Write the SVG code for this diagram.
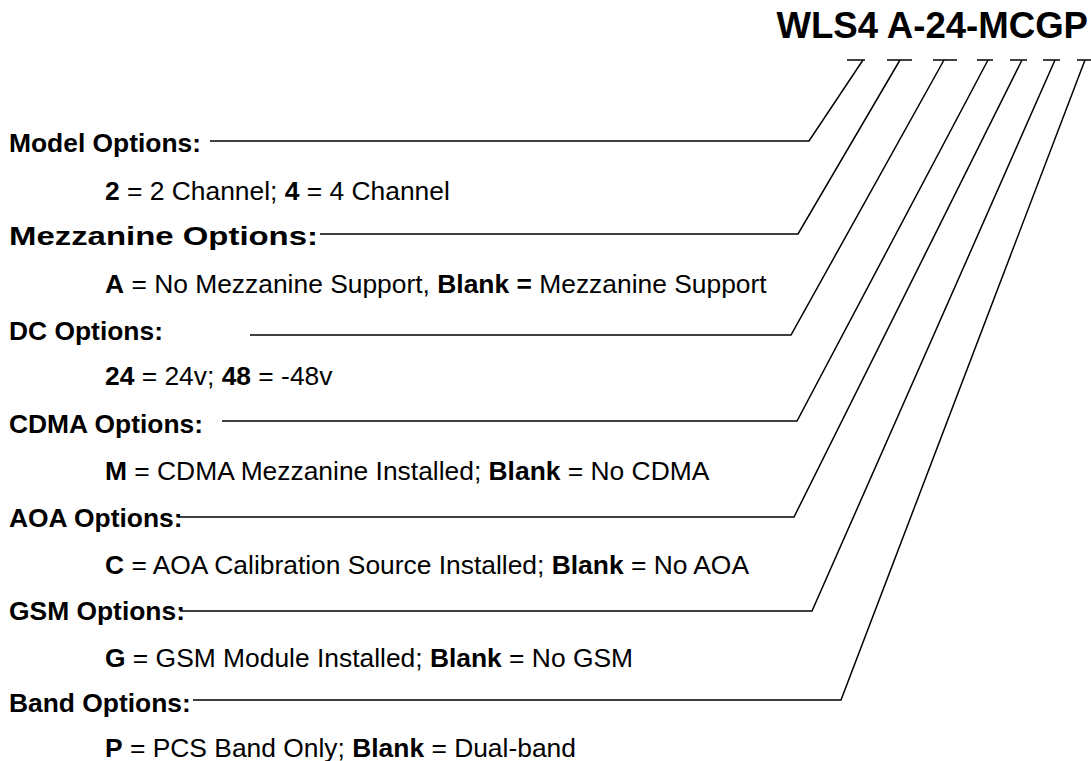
<svg xmlns="http://www.w3.org/2000/svg" width="1091" height="761" viewBox="0 0 1091 761">
<style>
text{font-family:"Liberation Sans",Arial,sans-serif;fill:#000}
.t{font-size:36.6px;font-weight:bold}
.h{font-size:26.4px;font-weight:bold}
.s{font-size:26.4px}
.b{font-weight:bold}
.c{fill:none;stroke:#000;stroke-width:1.5}
</style>
<rect width="1091" height="761" fill="#fff"/>
<g id="title"><text class="t" x="1088" y="38" text-anchor="end">WLS4 A-24-MCGP</text></g>
<g id="model"><text class="h" x="9" y="152">Model Options:</text><text class="s" x="105" y="200"><tspan class="b">2</tspan> = 2 Channel; <tspan class="b">4</tspan> = 4 Channel</text></g>
<g id="mezzanine"><text class="h" x="9" y="245" textLength="309" lengthAdjust="spacingAndGlyphs">Mezzanine Options:</text><text class="s" x="105" y="293"><tspan class="b">A</tspan> = No Mezzanine Support, <tspan class="b">Blank =</tspan> Mezzanine Support</text></g>
<g id="dc"><text class="h" x="9" y="340">DC Options:</text><text class="s" x="105" y="385"><tspan class="b">24</tspan> = 24v; <tspan class="b">48</tspan> = -48v</text></g>
<g id="cdma"><text class="h" x="9" y="433">CDMA Options:</text><text class="s" x="105" y="480"><tspan class="b">M</tspan> = CDMA Mezzanine Installed; <tspan class="b">Blank</tspan> = No CDMA</text></g>
<g id="aoa"><text class="h" x="9" y="527">AOA Options:</text><text class="s" x="105" y="574"><tspan class="b">C</tspan> = AOA Calibration Source Installed; <tspan class="b">Blank</tspan> = No AOA</text></g>
<g id="gsm"><text class="h" x="9" y="620">GSM Options:</text><text class="s" x="105" y="667"><tspan class="b">G</tspan> = GSM Module Installed; <tspan class="b">Blank</tspan> = No GSM</text></g>
<g id="band"><text class="h" x="9" y="712">Band Options:</text><text class="s" x="105" y="757"><tspan class="b">P</tspan> = PCS Band Only; <tspan class="b">Blank</tspan> = Dual-band</text></g>
<g id="connectors">
<polyline class="c" points="210,141 809,141 863,60"/><line class="c" x1="847" y1="60" x2="865" y2="60"/>
<polyline class="c" points="320,234 798,234 900,60"/><line class="c" x1="887" y1="60" x2="912" y2="60"/>
<polyline class="c" points="250,335 791,335 944,60"/><line class="c" x1="933" y1="60" x2="957" y2="60"/>
<polyline class="c" points="222,421 797,421 988,60"/><line class="c" x1="977" y1="60" x2="993" y2="60"/>
<polyline class="c" points="178,517 794,517 1022,60"/><line class="c" x1="1010" y1="60" x2="1027" y2="60"/>
<polyline class="c" points="180,611 812,611 1055,60"/><line class="c" x1="1043" y1="60" x2="1060" y2="60"/>
<polyline class="c" points="193,700 841,700 1085,60"/><line class="c" x1="1077" y1="60" x2="1091" y2="60"/>
</g>
</svg>
